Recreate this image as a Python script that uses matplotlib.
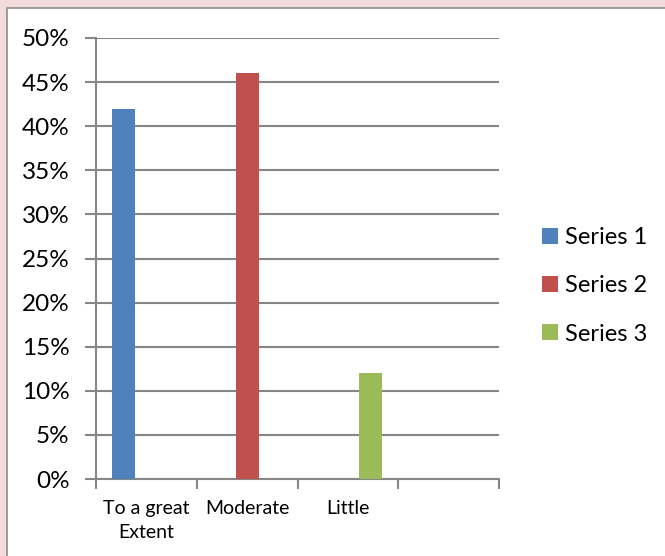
import numpy as np
import matplotlib
matplotlib.use("Agg")
import matplotlib.pyplot as plt
from matplotlib.patches import Rectangle

# data
categories = ["To a great\nExtent", "Moderate", "Little", ""]
series_names = ["Series 1", "Series 2", "Series 3"]
series1 = [0.42, 0, 0, 0]
series2 = [0, 0.46, 0, 0]
series3 = [0, 0, 0.12, 0]
colors = ["#4F81BD", "#C0504D", "#9BBB59"]

plt.rcParams['font.family'] = ['Lato', 'DejaVu Sans']

fig = plt.figure(figsize=(6.65, 5.56), dpi=100)
fig.patch.set_facecolor("#F2DCDB")

# white chart area with grey border
fig.patches.append(Rectangle((7/665, -0.05), 1.1, 1 - 8/556 + 0.05,
                             transform=fig.transFigure, facecolor="white",
                             edgecolor="#8C8C8C", linewidth=1.2, zorder=-10))

ax = fig.add_axes([96/665, 1 - 479/556, 403/665, 441/556])
ax.set_facecolor("white")

x = np.arange(len(categories))
w = 0.228
for i, (vals, name) in enumerate(zip([series1, series2, series3], series_names)):
    ax.bar(x + (i - 1) * w, vals, width=w, color=colors[i], label=name, zorder=3)

ax.set_xlim(-0.5, len(categories) - 0.5)
ax.set_ylim(0, 0.5)
yt = np.arange(0, 0.51, 0.05)
ax.set_yticks(yt)
ax.set_yticklabels([f"{int(round(v*100))}%" for v in yt], fontsize=17.5)
ax.yaxis.grid(True, color="#868686", linewidth=1.5, zorder=0)

# category ticks sit on the boundaries between slots
ax.set_xticks(np.arange(-0.5, len(categories)), minor=False)
ax.set_xticklabels([])
ax.set_xticks(x, minor=True)
ax.set_xticklabels(categories, minor=True, fontsize=14, linespacing=1.5)
ax.tick_params(axis="x", which="minor", length=0, pad=15)
ax.tick_params(axis="x", which="major", length=7, width=1.5, color="#868686")
ax.tick_params(axis="y", length=8, width=1.5, color="#868686", pad=11)

for s in ["top", "right"]:
    ax.spines[s].set_visible(False)
for s in ["left", "bottom"]:
    ax.spines[s].set_color("#868686")
    ax.spines[s].set_linewidth(1.5)

ax.legend(loc="center left", bbox_to_anchor=(521/665, 1 - 286/556),
          bbox_transform=fig.transFigure, frameon=False, fontsize=17,
          handlelength=0.65, handleheight=0.65, handletextpad=0.3,
          labelspacing=1.15)

plt.savefig("out.png", dpi=100, facecolor=fig.get_facecolor())
